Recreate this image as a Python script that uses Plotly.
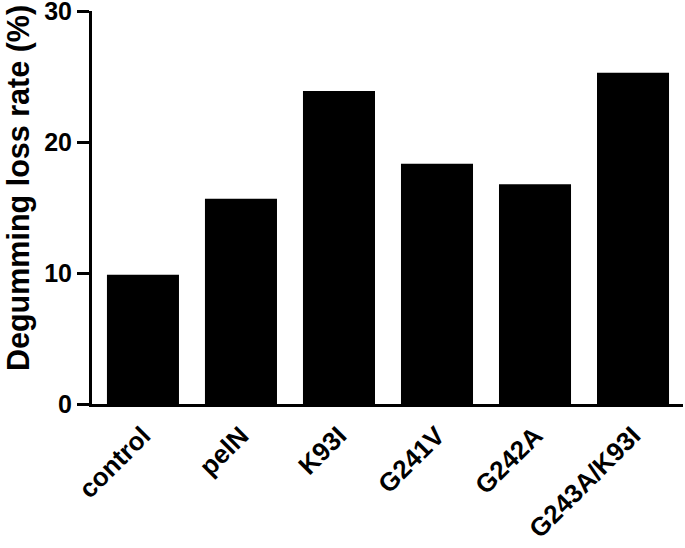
import plotly.graph_objects as go

categories = ["control", "pelN", "K93I", "G241V", "G242A", "G243A/K93I"]
values = [9.87, 15.68, 23.9, 18.36, 16.78, 25.3]
y_ticks = [0, 10, 20, 30]
y_title = "Degumming loss rate (%)"

font_family = "Liberation Sans, Arial, sans-serif"

W, H = 685, 548
L, R, T, B = 92, 2, 11, 144
pw, ph = W - L - R, H - T - B

fig = go.Figure(go.Bar(
    x=categories, y=values,
    marker=dict(color="black", line=dict(color="black", width=0)),
    width=0.735,
))

fig.update_layout(
    width=W, height=H,
    margin=dict(l=L, r=R, t=T, b=B, autoexpand=False),
    paper_bgcolor="white", plot_bgcolor="white",
    showlegend=False,
    font=dict(family=font_family, color="black"),
)
fig.update_xaxes(
    range=[-0.52, 5.51], automargin=False,
    showline=True, linecolor="black", linewidth=3,
    ticks="", tickangle=-45, ticklabelstandoff=3,
    ticklabeloverflow="allow",
    tickfont=dict(size=26, family=font_family, color="black", weight="bold"),
    showgrid=False,
)
fig.update_yaxes(
    range=[0, 30.02], tickvals=y_ticks, automargin=False,
    showline=True, linecolor="black", linewidth=3,
    ticks="outside", ticklen=12, tickwidth=3, tickcolor="black",
    ticklabeloverflow="allow",
    tickfont=dict(size=25, family=font_family, color="black", weight="bold"),
    showgrid=False, zeroline=False,
)
fig.add_annotation(
    text=y_title, textangle=-90, showarrow=False,
    xref="paper", yref="paper",
    x=(18 - L) / pw, y=(H - B - 188) / ph,
    xanchor="center", yanchor="middle",
    font=dict(size=30.5, family=font_family, color="black", weight="bold"),
)

fig.write_html("out.html", config={"displayModeBar": False},
               post_script="document.body.style.margin='0px';")
